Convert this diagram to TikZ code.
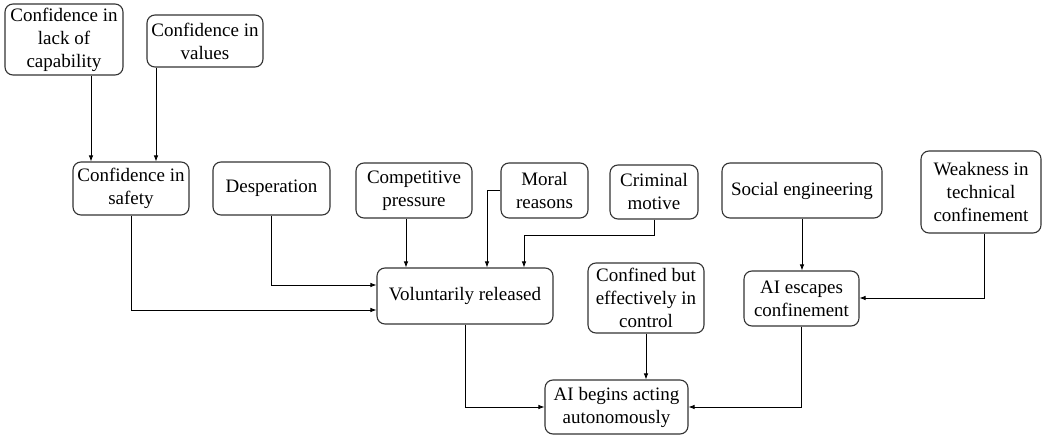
\documentclass[tikz,border=0pt]{standalone}
\usepackage{fontspec}
\setmainfont{Liberation Serif}
\usetikzlibrary{arrows.meta}
\begin{document}
\begin{tikzpicture}[x=1pt,y=-1pt,
 box/.style={draw=black!80, line width=1.1pt, rounded corners=8pt, align=center, inner sep=0pt, font=\fontsize{19}{23}\selectfont},
 arr/.style={-{Latex[length=6pt,width=4.5pt]}, line width=0.8pt}]
\useasboundingbox (0,0) rectangle (1043,435);
\node[box, minimum width=118pt, minimum height=71pt] (cap) at (64,39.5) {Confidence in\\lack of\\capability};
\node[box, minimum width=116pt, minimum height=52pt] (val) at (205,41) {Confidence in\\values};
\node[box, minimum width=116pt, minimum height=53pt] (safety) at (131,188.5) {Confidence in\\safety};
\node[box, minimum width=117pt, minimum height=53pt] (desp) at (271.5,188.5) {Desperation};
\node[box, minimum width=116pt, minimum height=55pt] (comp) at (414,190.5) {Competitive\\pressure};
\node[box, minimum width=87pt, minimum height=55pt] (moral) at (544.5,190.5) {Moral\\reasons};
\node[box, minimum width=88pt, minimum height=54pt] (crim) at (654,192) {Criminal\\motive};
\node[box, minimum width=160pt, minimum height=55pt] (soc) at (802,190.5) {Social engineering};
\node[box, minimum width=120pt, minimum height=82pt] (weak) at (981,192) {Weakness in\\technical\\confinement};
\node[box, minimum width=176pt, minimum height=56pt] (vol) at (465,296) {Voluntarily released};
\node[box, minimum width=116pt, minimum height=70pt] (conf) at (646,298) {Confined but\\effectively in\\control};
\node[box, minimum width=115pt, minimum height=55pt] (esc) at (801.5,298.5) {AI escapes\\confinement};
\node[box, minimum width=143pt, minimum height=54pt] (auto) at (616.5,407) {AI begins acting\\autonomously};
\coordinate (c91) at (91,0);
\coordinate (c156) at (156,0);
\coordinate (c406) at (406,0);
\coordinate (c487) at (487,0);
\coordinate (c524) at (524,0);
\coordinate (c984) at (984,0);
\coordinate (r285) at (0,285);
\coordinate (r310) at (0,310);
\coordinate (r235) at (0,235);
\coordinate (r298) at (0,298);
\coordinate (r407) at (0,407);
\draw[arr] (cap.south -| c91) -- (safety.north -| c91);
\draw[arr] (val.south -| c156) -- (safety.north -| c156);
\draw[arr] (safety.south) |- (vol.west |- r310);
\draw[arr] (desp.south) |- (vol.west |- r285);
\draw[arr] (comp.south -| c406) -- (vol.north -| c406);
\draw[arr] (moral.west) -| (vol.north -| c487);
\draw[arr] (crim.south) |- (r235 -| c524) -- (vol.north -| c524);
\draw[arr] (soc.south) -- (soc.south |- esc.north);
\draw[arr] (weak.south -| c984) |- (esc.east |- r298);
\draw[arr] (vol.south) |- (auto.west |- r407);
\draw[arr] (conf.south) -- (conf.south |- auto.north);
\draw[arr] (esc.south) |- (auto.east |- r407);
\end{tikzpicture}
\end{document}
